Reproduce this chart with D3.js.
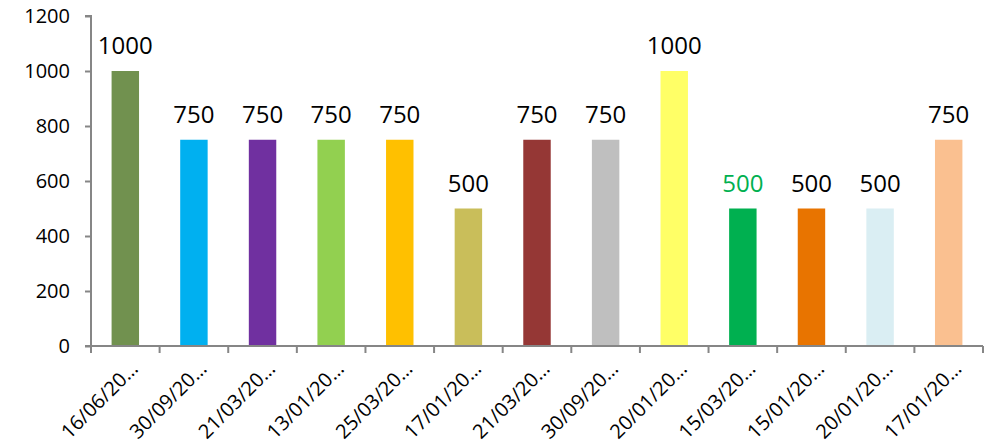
<!DOCTYPE html>
<html>
<head>
<meta charset="utf-8">
<script src="https://cdn.jsdelivr.net/npm/d3@7"></script>
<style>
  html, body { margin: 0; padding: 0; background: #fff; }
  svg { display: block; font-family: "Open Sans", Carlito, Calibri, sans-serif; }
</style>
</head>
<body>
<svg id="chart" width="992" height="444"></svg>
<script>
// Category labels (dates, truncated as displayed)
const categories = [
  "16/06/20…", "30/09/20…", "21/03/20…", "13/01/20…", "25/03/20…",
  "17/01/20…", "21/03/20…", "30/09/20…", "20/01/20…", "15/03/20…",
  "15/01/20…", "20/01/20…", "17/01/20…"
];
// Bar values
const values = [1000, 750, 750, 750, 750, 500, 750, 750, 1000, 500, 500, 500, 750];
// Bar fill colours
const barColors = [
  "#71914f", "#00b0f0", "#7030a0", "#92d050", "#ffc000",
  "#c9be5a", "#953735", "#bfbfbf", "#ffff66", "#00b050",
  "#e87400", "#daeef3", "#fac090"
];
// Value label colours
const labelColors = [
  "#000", "#000", "#000", "#000", "#000", "#000", "#000",
  "#000", "#000", "#00b050", "#000", "#000", "#000"
];
// Y axis ticks
const yTicks = [0, 200, 400, 600, 800, 1000, 1200];

const svg = d3.select("#chart");
const font = "'Open Sans', Carlito, Calibri, sans-serif";
const x0 = 91, x1 = 983, yTop = 16, yBottom = 346;
const axisColor = "#868686";

const x = d3.scaleBand()
  .domain(d3.range(categories.length))
  .range([x0, x1])
  .paddingInner(0.6)
  .paddingOuter(0.3);

const xBoundary = d3.scaleLinear().domain([0, categories.length]).range([x0, x1]);

const y = d3.scaleLinear().domain([0, 1200]).range([yBottom, yTop]);

// Bars
svg.append("g").selectAll("rect")
  .data(values)
  .join("rect")
  .attr("x", (d, i) => x(i))
  .attr("width", x.bandwidth())
  .attr("y", d => y(d))
  .attr("height", d => y(0) - y(d))
  .attr("fill", (d, i) => barColors[i]);

// Value labels
svg.append("g").selectAll("text")
  .data(values)
  .join("text")
  .attr("x", (d, i) => x(i) + x.bandwidth() / 2)
  .attr("y", d => y(d) - 17)
  .attr("text-anchor", "middle")
  .attr("font-size", 24)
  .attr("font-family", font)
  .attr("fill", (d, i) => labelColors[i])
  .text(d => d);

// Y axis
const yAxis = svg.append("g")
  .attr("transform", `translate(${x0},0)`)
  .call(d3.axisLeft(y).tickValues(yTicks).tickSize(6).tickPadding(15).tickFormat(d3.format("d")));
yAxis.select(".domain").attr("stroke", axisColor).attr("stroke-width", 2)
  .attr("d", `M-6,${yTop}H0V${yBottom}H-6`);
yAxis.selectAll(".tick line").attr("stroke", axisColor).attr("stroke-width", 2);
yAxis.selectAll(".tick text").attr("font-size", 20).attr("fill", "#000")
  .attr("font-family", font);

// X axis with ticks at category boundaries
const xAxisG = svg.append("g").attr("transform", `translate(0,${yBottom})`);
xAxisG.append("line")
  .attr("x1", x0 - 6).attr("x2", x1)
  .attr("stroke", axisColor).attr("stroke-width", 2);
xAxisG.selectAll("line.tick")
  .data(d3.range(categories.length + 1))
  .join("line")
  .attr("class", "tick")
  .attr("x1", i => xBoundary(i)).attr("x2", i => xBoundary(i))
  .attr("y1", 0).attr("y2", 7)
  .attr("stroke", axisColor).attr("stroke-width", 2);

// Rotated category labels
xAxisG.selectAll("text")
  .data(categories)
  .join("text")
  .attr("transform", (d, i) => `translate(${x(i) + x.bandwidth() / 2 + 14},${24}) rotate(-45)`)
  .attr("text-anchor", "end")
  .attr("font-size", 20)
  .attr("font-family", font)
  .attr("fill", "#000")
  .text(d => d);
</script>
</body>
</html>
